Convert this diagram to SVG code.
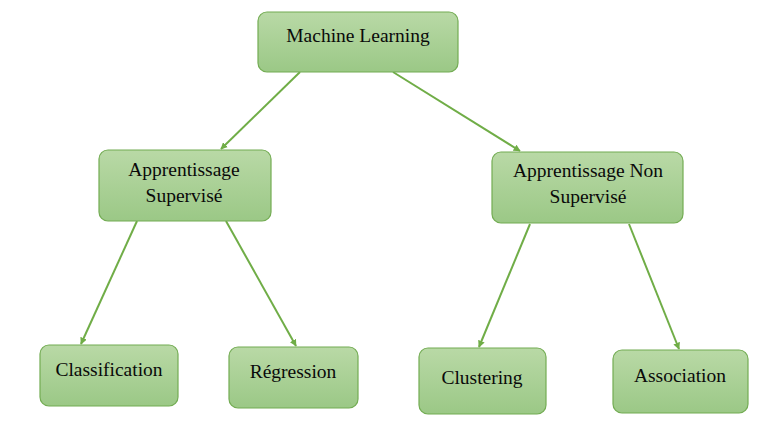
<svg xmlns="http://www.w3.org/2000/svg" width="770" height="427" viewBox="0 0 770 427">
<defs>
<linearGradient id="g" x1="0" y1="0" x2="0" y2="1">
<stop offset="0" stop-color="#b9d9a6"/>
<stop offset="1" stop-color="#9bc886"/>
</linearGradient>
<marker id="ah" viewBox="0 0 10 10" refX="9" refY="5" markerWidth="7" markerHeight="7" markerUnits="userSpaceOnUse" orient="auto">
<path d="M0,0 L10,5 L0,10 z" fill="#70ad47"/>
</marker>
<style>
.box{fill:url(#g);stroke:#73ac53;stroke-width:1.2}
.t{font-family:"Liberation Serif","Times New Roman",serif;font-size:19.5px;fill:#0a0a0a;text-anchor:middle}
.c line{stroke:#70ad47;stroke-width:2;marker-end:url(#ah)}
</style>
</defs>
<rect width="770" height="427" fill="#fff"/>
<g class="c" id="connectors">
<line x1="300" y1="72" x2="221" y2="149"/>
<line x1="393" y1="72" x2="520" y2="151"/>
<line x1="137" y1="221" x2="81" y2="344"/>
<line x1="226" y1="221" x2="296" y2="346"/>
<line x1="530" y1="224" x2="479" y2="347"/>
<line x1="629" y1="224" x2="679" y2="349"/>
</g>
<g id="n-ml"><rect class="box" x="258" y="12" width="200" height="60" rx="9"/><text class="t" x="358" y="42">Machine Learning</text></g>
<g id="n-as"><rect class="box" x="99" y="150" width="172" height="71" rx="9"/><text class="t" x="184" y="176">Apprentissage</text><text class="t" x="184" y="202">Supervisé</text></g>
<g id="n-ans"><rect class="box" x="492" y="152" width="191" height="71" rx="9"/><text class="t" x="588" y="177">Apprentissage Non</text><text class="t" x="588" y="203">Supervisé</text></g>
<g id="n-class"><rect class="box" x="40" y="345" width="138" height="61" rx="9"/><text class="t" x="109" y="376">Classification</text></g>
<g id="n-reg"><rect class="box" x="229" y="347" width="129" height="61" rx="9"/><text class="t" x="293" y="378">Régression</text></g>
<g id="n-clu"><rect class="box" x="419" y="348" width="127" height="66" rx="9"/><text class="t" x="482" y="384">Clustering</text></g>
<g id="n-asso"><rect class="box" x="613" y="350" width="135" height="63" rx="9"/><text class="t" x="680" y="382">Association</text></g>
</svg>
